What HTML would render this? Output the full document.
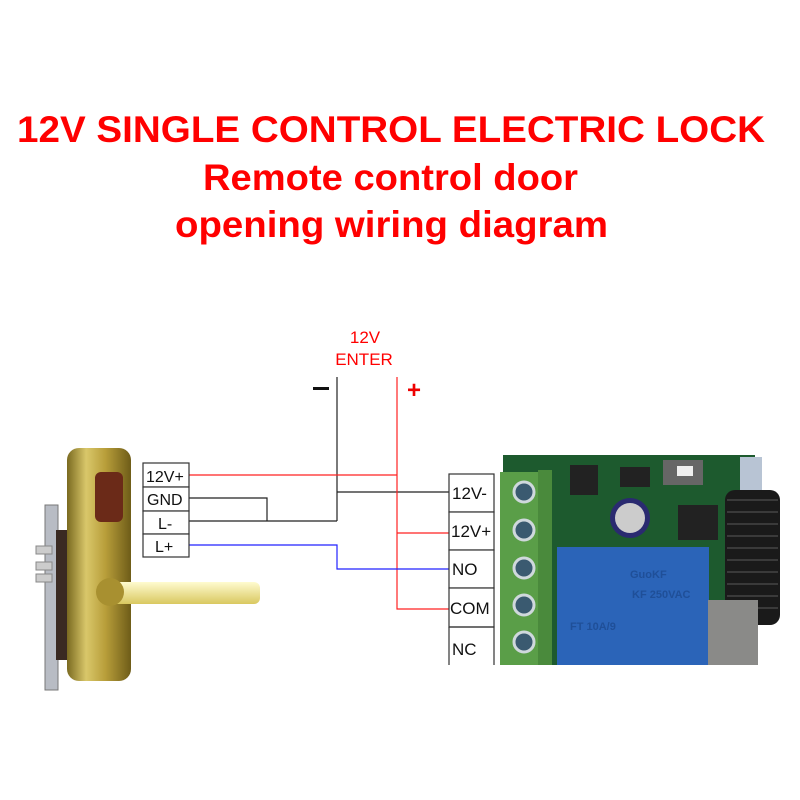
<!DOCTYPE html>
<html><head><style>html,body{margin:0;padding:0;background:#fff;}svg{display:block}</style></head>
<body>
<svg width="800" height="800" viewBox="0 0 800 800" xmlns="http://www.w3.org/2000/svg" font-family="Liberation Sans, sans-serif">
<rect width="800" height="800" fill="#fff"/>
<g fill="#f00" font-weight="bold" font-size="37">
<text x="17" y="142" textLength="748" lengthAdjust="spacingAndGlyphs">12V SINGLE CONTROL ELECTRIC LOCK</text>
<text x="203" y="190" textLength="375" lengthAdjust="spacingAndGlyphs">Remote control door</text>
<text x="175" y="237" textLength="433" lengthAdjust="spacingAndGlyphs">opening wiring diagram</text>
</g>
<g fill="#f00" font-size="17" text-anchor="middle">
<text x="365" y="343">12V</text>
<text x="364" y="365">ENTER</text>
</g>
<rect x="313" y="387" width="16" height="3" fill="#111"/>
<text x="414" y="398" fill="#e00" font-size="24" font-weight="bold" text-anchor="middle">+</text>

<!-- lock -->
<rect x="45" y="505" width="13" height="185" fill="#b8bcc4" stroke="#777" stroke-width="1"/>
<rect x="36" y="546" width="16" height="8" fill="#ccc" stroke="#888"/>
<rect x="36" y="562" width="16" height="8" fill="#ccc" stroke="#888"/>
<rect x="36" y="574" width="16" height="8" fill="#ccc" stroke="#888"/>
<rect x="56" y="530" width="26" height="130" fill="#3a2a22"/>
<defs>
<linearGradient id="g" x1="0" x2="1"><stop offset="0" stop-color="#7a6a20"/><stop offset="0.3" stop-color="#d9c76a"/><stop offset="0.6" stop-color="#b89e3a"/><stop offset="1" stop-color="#6e5c18"/></linearGradient>
<linearGradient id="h" x1="0" y1="0" x2="0" y2="1"><stop offset="0" stop-color="#fffbd0"/><stop offset="1" stop-color="#d9c860"/></linearGradient>
</defs>
<rect x="67" y="448" width="64" height="233" rx="12" fill="url(#g)"/>
<rect x="95" y="472" width="28" height="50" rx="6" fill="#6b2a18"/>
<rect x="100" y="582" width="160" height="22" rx="6" fill="url(#h)"/>
<circle cx="110" cy="592" r="14" fill="#a89030"/>

<!-- relay board -->
<rect x="503" y="455" width="252" height="210" fill="#1d5a2e"/>
<rect x="740" y="457" width="22" height="35" fill="#b8c4d4"/>
<rect x="663" y="460" width="40" height="25" fill="#666"/>
<rect x="677" y="466" width="16" height="10" fill="#eee"/>
<rect x="570" y="465" width="28" height="30" fill="#222"/>
<rect x="620" y="467" width="30" height="20" fill="#222"/>
<rect x="678" y="505" width="40" height="35" fill="#222"/>
<circle cx="630" cy="518" r="20" fill="#2a2a70"/>
<circle cx="630" cy="518" r="15" fill="#ccc"/>
<rect x="500" y="472" width="50" height="193" fill="#5a9e48"/>
<rect x="538" y="470" width="14" height="195" fill="#4a8a3c"/>
<g fill="#3a5a70" stroke="#cfd8dc" stroke-width="3">
<circle cx="524" cy="492" r="10"/><circle cx="524" cy="530" r="10"/><circle cx="524" cy="568" r="10"/><circle cx="524" cy="605" r="10"/><circle cx="524" cy="642" r="10"/>
</g>
<rect x="557" y="547" width="152" height="118" fill="#2b64b8"/>
<g fill="#1f4f98" font-size="11" font-weight="bold"><text x="630" y="578">GuoKF</text><text x="632" y="598">KF 250VAC</text><text x="570" y="630">FT 10A/9</text></g>
<rect x="725" y="490" width="55" height="135" rx="10" fill="#1a1a1a"/>
<g stroke="#444" stroke-width="1.5">
<line x1="727" y1="500" x2="778" y2="500"/><line x1="727" y1="512" x2="778" y2="512"/><line x1="727" y1="524" x2="778" y2="524"/><line x1="727" y1="536" x2="778" y2="536"/><line x1="727" y1="548" x2="778" y2="548"/><line x1="727" y1="560" x2="778" y2="560"/><line x1="727" y1="572" x2="778" y2="572"/><line x1="727" y1="584" x2="778" y2="584"/><line x1="727" y1="596" x2="778" y2="596"/><line x1="727" y1="608" x2="778" y2="608"/>
</g>
<rect x="708" y="600" width="50" height="65" fill="#8a8a88"/>

<!-- wires -->
<g fill="none" stroke-width="1.2">
<path d="M337 377 V521" stroke="#222"/>
<path d="M337 492 H449" stroke="#222"/>
<path d="M189 498 H267 V521" stroke="#222"/>
<path d="M189 521 H337" stroke="#222"/>
<path d="M397 377 V609 H449" stroke="#f22"/>
<path d="M189 475 H397" stroke="#f22"/>
<path d="M397 533 H449" stroke="#f22"/>
<path d="M189 545 H337 V569 H449" stroke="#22f"/>
</g>

<!-- label boxes -->
<g fill="#fff" stroke="#333" stroke-width="1.2">
<rect x="143" y="463" width="46" height="24"/><rect x="143" y="487" width="46" height="24"/><rect x="143" y="511" width="46" height="23"/><rect x="143" y="534" width="46" height="23"/>
<rect x="449" y="474" width="45" height="38"/><rect x="449" y="512" width="45" height="38"/><rect x="449" y="550" width="45" height="38"/><rect x="449" y="588" width="45" height="39"/>
</g>
<path d="M449 627 V665 M449 627 H494 V665" fill="none" stroke="#333" stroke-width="1.2"/>
<g fill="#111" font-size="16">
<text x="146" y="482">12V+</text><text x="147" y="505">GND</text><text x="158" y="529">L-</text><text x="155" y="552">L+</text>
</g>
<g fill="#111" font-size="17">
<text x="452" y="499">12V-</text><text x="451" y="537">12V+</text><text x="452" y="575">NO</text><text x="450" y="614">COM</text><text x="452" y="655">NC</text>
</g>
</svg>
</body></html>
